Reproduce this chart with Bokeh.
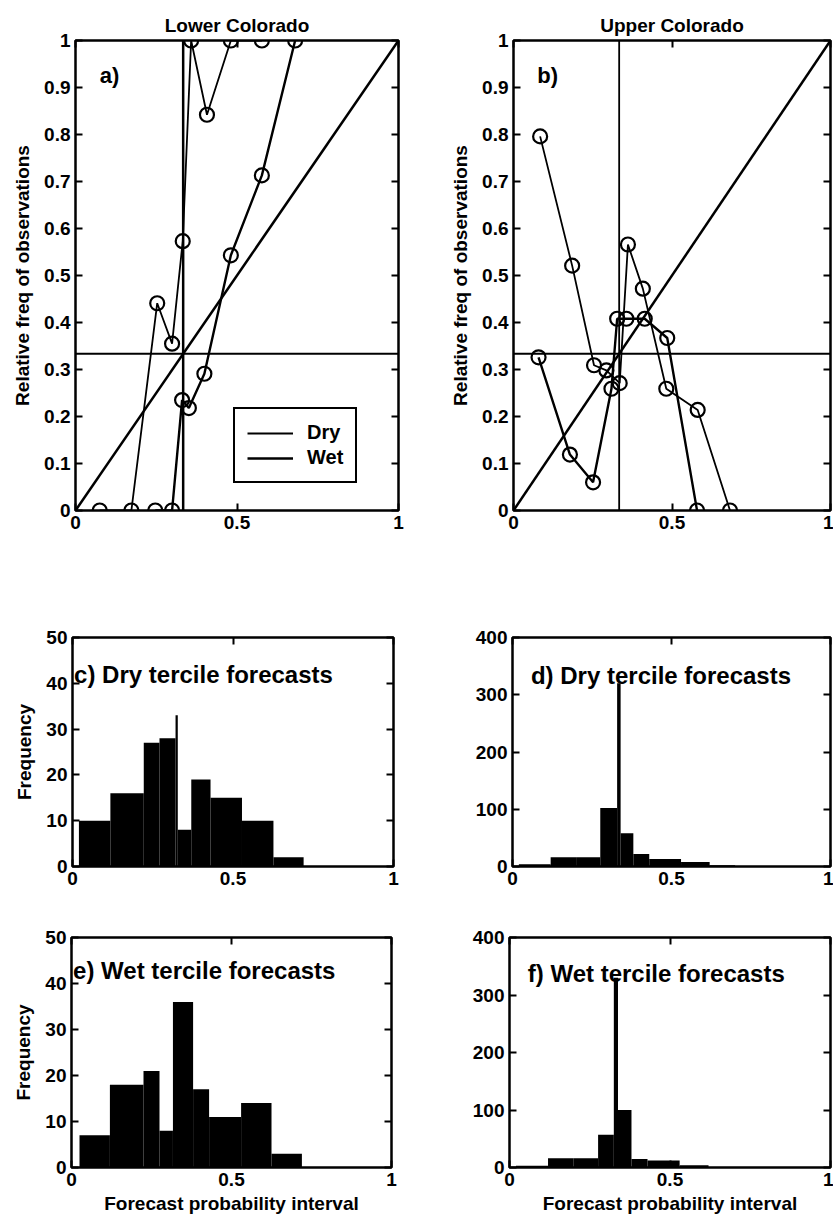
from bokeh.plotting import figure
from bokeh.models import (FixedTicker, CustomJSTickFormatter, LinearAxis, Range1d,
                          Label, Legend, LegendItem, Span, Slope)
from bokeh.layouts import column, row
from bokeh.embed import file_html
from bokeh.resources import INLINE

FONT = "Liberation Sans"
TICK_FS = "19px"

# ---------------- data ----------------
x_ticks = [0, 0.5, 1]
rel_y_ticks = [0, 0.1, 0.2, 0.3, 0.4, 0.5, 0.6, 0.7, 0.8, 0.9, 1]
freq_ticks_lower = [0, 10, 20, 30, 40, 50]
freq_ticks_upper = [0, 100, 200, 300, 400]
climatology = 1 / 3

# reliability curves (forecast probability vs relative frequency of observations)
lower_dry_x = [0.075, 0.173, 0.253, 0.299, 0.332, 0.358, 0.407, 0.481, 0.577]
lower_dry_y = [0.0, 0.0, 0.441, 0.355, 0.573, 1.0, 0.842, 1.0, 1.0]
lower_wet_x = [0.247, 0.299, 0.330, 0.351, 0.399, 0.481, 0.577, 0.680]
lower_wet_y = [0.0, 0.0, 0.235, 0.218, 0.291, 0.543, 0.713, 1.0]

upper_dry_x = [0.084, 0.185, 0.254, 0.293, 0.335, 0.361, 0.408, 0.482, 0.581, 0.683]
upper_dry_y = [0.796, 0.521, 0.309, 0.298, 0.271, 0.566, 0.472, 0.259, 0.214, 0.0]
upper_wet_x = [0.079, 0.178, 0.251, 0.309, 0.327, 0.356, 0.414, 0.485, 0.579]
upper_wet_y = [0.326, 0.119, 0.060, 0.259, 0.408, 0.408, 0.408, 0.367, 0.0]

# histograms of forecast probabilities
lower_dry_left = [0.020, 0.118, 0.222, 0.271, 0.321, 0.328, 0.370, 0.430, 0.528, 0.626]
lower_dry_right = [0.118, 0.222, 0.271, 0.321, 0.328, 0.370, 0.430, 0.528, 0.626, 0.720]
lower_dry_count = [10, 16, 27, 28, 33, 8, 19, 15, 10, 2]

upper_dry_left = [0.020, 0.120, 0.200, 0.276, 0.329, 0.340, 0.380, 0.430, 0.530, 0.620]
upper_dry_right = [0.120, 0.200, 0.276, 0.329, 0.340, 0.380, 0.430, 0.530, 0.620, 0.700]
upper_dry_count = [4, 16, 16, 102, 320, 58, 22, 13, 8, 2]

lower_wet_left = [0.025, 0.120, 0.225, 0.275, 0.317, 0.380, 0.430, 0.530, 0.625]
lower_wet_right = [0.120, 0.225, 0.275, 0.317, 0.380, 0.430, 0.530, 0.625, 0.720]
lower_wet_count = [7, 18, 21, 8, 36, 17, 11, 14, 3]

upper_wet_left = [0.020, 0.120, 0.200, 0.276, 0.325, 0.338, 0.380, 0.430, 0.530, 0.620]
upper_wet_right = [0.120, 0.200, 0.276, 0.325, 0.338, 0.380, 0.430, 0.530, 0.620, 0.700]
upper_wet_count = [3, 16, 16, 57, 330, 100, 15, 12, 4, 1]


# ---------------- helpers ----------------
def fmt_labels():
    return CustomJSTickFormatter(code="return String(Math.round(tick*1000)/1000)")


def fmt_blank():
    return CustomJSTickFormatter(code="return ''")


def style_axis(ax, ticks, labels=True):
    ax.ticker = FixedTicker(ticks=ticks)
    ax.axis_line_color = None
    ax.major_tick_in = 7
    ax.major_tick_out = 0
    ax.major_tick_line_width = 2
    ax.minor_tick_line_color = None
    ax.major_label_text_font = FONT
    ax.major_label_text_font_style = "bold"
    ax.major_label_text_color = "black"
    if labels:
        ax.formatter = fmt_labels()
        ax.major_label_text_font_size = TICK_FS
        ax.major_label_standoff = 5
    else:
        ax.formatter = fmt_blank()
        ax.major_label_text_font_size = "0px"
        ax.major_label_standoff = 0


def base_fig(width, height, left, right, top, bottom, y_end, xt, yt):
    p = figure(width=width, height=height, x_range=Range1d(0, 1), y_range=Range1d(0, y_end),
               output_backend="svg", toolbar_location=None,
               min_border_left=left, min_border_right=right,
               min_border_top=top, min_border_bottom=bottom)
    p.grid.visible = False
    p.outline_line_color = "black"
    p.outline_line_width = 2.5
    p.background_fill_color = "white"
    p.border_fill_color = "white"
    style_axis(p.below[0], xt, True)
    style_axis(p.left[0], yt, True)
    top_ax = LinearAxis()
    style_axis(top_ax, xt, False)
    right_ax = LinearAxis()
    style_axis(right_ax, yt, False)
    p.add_layout(top_ax, "above")
    p.add_layout(right_ax, "right")
    return p


def axis_label(ax, text, size="19px", standoff=8):
    ax.axis_label = text
    ax.axis_label_text_font = FONT
    ax.axis_label_text_font_style = "bold"
    ax.axis_label_text_font_size = size
    ax.axis_label_standoff = standoff
    ax.axis_label_text_color = "black"


def reliability(title, tag, dry_x, dry_y, wet_x, wet_y, width, left, right, vline_w, legend):
    p = base_fig(width, 600, left, right, 40, 90, 1, x_ticks, rel_y_ticks)
    p.title.text = title
    p.title.align = "center"
    p.title.text_font = FONT
    p.title.text_font_size = "19px"
    p.title.text_font_style = "bold"
    p.title.text_color = "black"
    p.title.standoff = 9
    axis_label(p.left[0], "Relative freq of observations")
    p.add_layout(Span(location=climatology, dimension="width", line_color="black", line_width=2))
    p.add_layout(Span(location=climatology, dimension="height", line_color="black", line_width=vline_w))
    p.add_layout(Slope(gradient=1, y_intercept=0, line_color="black", line_width=2.5))
    r_dry = p.line(dry_x, dry_y, line_color="black", line_width=1.8)
    p.scatter(dry_x, dry_y, marker="circle", size=14, fill_color=None, line_color="black", line_width=2.2)
    r_wet = p.line(wet_x, wet_y, line_color="black", line_width=2.4)
    p.scatter(wet_x, wet_y, marker="circle", size=14, fill_color=None, line_color="black", line_width=2.2)
    p.add_layout(Label(x=0.075, y=0.926, text=tag, text_font=FONT, text_font_size="22px",
                       text_font_style="bold", text_baseline="middle", text_color="black"))
    if legend:
        leg = Legend(items=[LegendItem(label="Dry", renderers=[r_dry]),
                            LegendItem(label="Wet", renderers=[r_wet])],
                     location=(158, 27))
        leg.label_text_font = FONT
        leg.label_text_font_size = "20px"
        leg.label_text_font_style = "bold"
        leg.label_text_color = "black"
        leg.glyph_width = 46
        leg.glyph_height = 22
        leg.label_standoff = 14
        leg.padding = 12
        leg.spacing = 2
        leg.margin = 0
        leg.border_line_color = "black"
        leg.border_line_alpha = 1
        leg.border_line_width = 2
        leg.background_fill_alpha = 1
        p.add_layout(leg, "center")
    return p


def histogram(text, tx, ty, lefts, rights, counts, y_end, yt, width, left, right, height, top, bottom,
              ylabel, xlabel):
    p = base_fig(width, height, left, right, top, bottom, y_end, x_ticks, yt)
    p.quad(left=lefts, right=rights, top=counts, bottom=0, fill_color="black", line_color=None)
    p.add_layout(Label(x=tx, y=ty, text=text, text_font=FONT, text_font_size="24px",
                       text_font_style="bold", text_baseline="middle", text_color="black"))
    if ylabel:
        axis_label(p.left[0], ylabel)
    if xlabel:
        axis_label(p.below[0], xlabel, standoff=4)
    return p


pa = reliability("Lower Colorado", "a)", lower_dry_x, lower_dry_y, lower_wet_x, lower_wet_y,
                 408, 75, 10, 2.5, True)
pb = reliability("Upper Colorado", "b)", upper_dry_x, upper_dry_y, upper_wet_x, upper_wet_y,
                 425, 105, 3, 1.8, False)

pc = histogram("c) Dry tercile forecasts", 0.005, 42, lower_dry_left, lower_dry_right, lower_dry_count,
               50, freq_ticks_lower, 408, 72, 15, 300, 37, 34, "Frequency", None)
pd_ = histogram("d) Dry tercile forecasts", 0.058, 334, upper_dry_left, upper_dry_right, upper_dry_count,
                400, freq_ticks_upper, 425, 104, 3, 300, 37, 34, None, None)
pe = histogram("e) Wet tercile forecasts", 0.005, 42.8, lower_wet_left, lower_wet_right, lower_wet_count,
               50, freq_ticks_lower, 408, 71, 17, 323, 37, 56, "Frequency", "Forecast probability interval")
pf = histogram("f) Wet tercile forecasts", 0.057, 337, upper_wet_left, upper_wet_right, upper_wet_count,
               400, freq_ticks_upper, 425, 101, 3, 323, 37, 56, None, "Forecast probability interval")

layout = column(row(pa, pb), row(pc, pd_), row(pe, pf))
open("out.html", "w").write(file_html(layout, INLINE))
